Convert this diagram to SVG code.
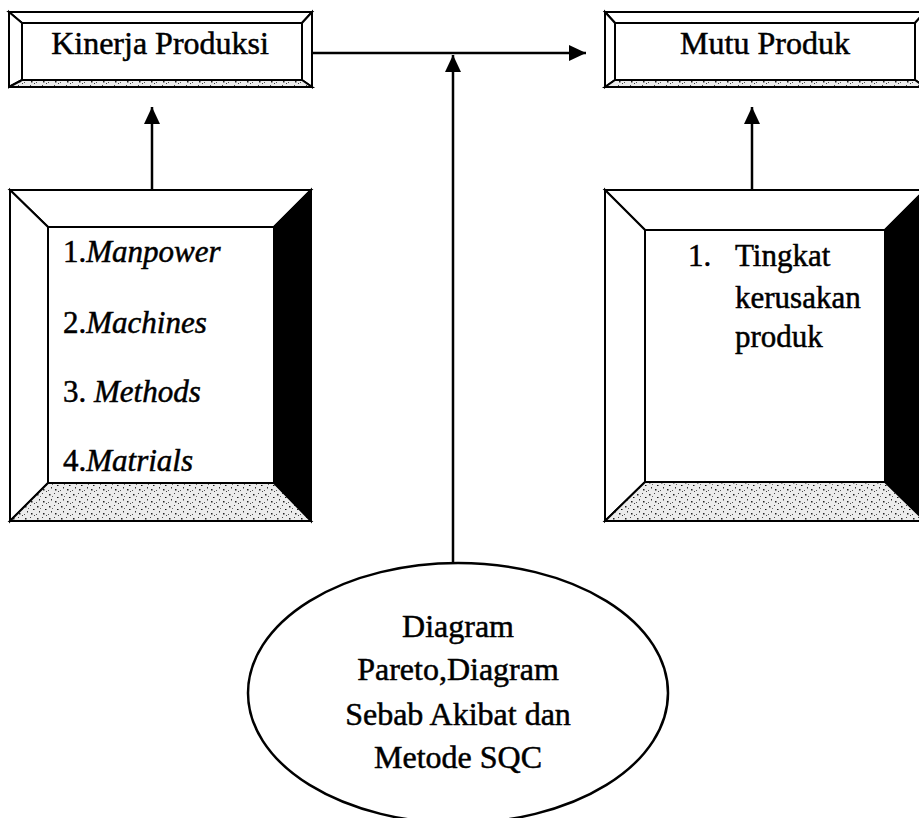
<svg xmlns="http://www.w3.org/2000/svg" width="919" height="818" viewBox="0 0 919 818">
<style>
.t{font-family:"Liberation Serif","Times New Roman",serif;font-size:32px;fill:#000;stroke:#000;stroke-width:0.5}
.m{font-size:31px}
.it{font-style:italic}
.bev{stroke:#000;stroke-width:2;stroke-linejoin:miter}
.w{fill:#fff}
.k{fill:#000}
.s{fill:url(#stip)}
.ln{fill:none;stroke:#000;stroke-width:2.5}
</style>
<defs>
<pattern id="stip" width="12" height="12" patternUnits="userSpaceOnUse">
<rect width="12" height="12" fill="#ececec"/>
<rect x="1" y="2" width="1.5" height="1.5" fill="#222"/>
<rect x="6" y="1" width="1" height="1" fill="#444"/>
<rect x="9" y="5" width="1.5" height="1" fill="#111"/>
<rect x="3" y="7" width="1" height="1.5" fill="#333"/>
<rect x="7" y="9" width="1.5" height="1.5" fill="#222"/>
<rect x="0" y="10" width="1" height="1" fill="#555"/>
<rect x="10" y="11" width="1" height="1" fill="#444"/>
<rect x="4" y="4" width="1" height="1" fill="#666"/>
</pattern>
<marker id="ah" markerUnits="userSpaceOnUse" markerWidth="18" markerHeight="16" refX="17" refY="8" orient="auto">
<path d="M0,0 L17,8 L0,16 z" fill="#000"/>
</marker>
</defs>

<g id="kinerja-produksi">
<polygon class="bev w" points="9,12 312,12 302,23 22,23"/>
<polygon class="bev w" points="9,12 22,23 22,80 9,87"/>
<polygon class="bev w" points="312,12 312,87 302,80 302,23"/>
<polygon class="bev s" points="9,87 22,80 302,80 312,87"/>
<rect class="bev w" x="22" y="23" width="280" height="57"/>
<text class="t" x="160" y="54" text-anchor="middle">Kinerja Produksi</text>
</g>

<g id="mutu-produk">
<polygon class="bev w" points="605,12 925,12 915,23 615,23"/>
<polygon class="bev w" points="605,12 615,23 615,80 605,87"/>
<polygon class="bev w" points="925,12 925,87 915,80 915,23"/>
<polygon class="bev s" points="605,87 615,80 915,80 925,87"/>
<rect class="bev w" x="615" y="23" width="300" height="57"/>
<text class="t" x="765" y="54" text-anchor="middle">Mutu Produk</text>
</g>

<g id="faktor-produksi">
<polygon class="bev w" points="10,190 311,190 274,227 48,227"/>
<polygon class="bev w" points="10,190 48,227 48,483 10,521"/>
<polygon class="bev k" points="311,190 311,521 274,483 274,227"/>
<polygon class="bev s" points="10,521 48,483 274,483 311,521"/>
<rect class="bev w" x="48" y="227" width="226" height="256"/>
<text class="t m" x="63" y="262">1.<tspan class="it">Manpower</tspan></text>
<text class="t m" x="63" y="333">2.<tspan class="it">Machines</tspan></text>
<text class="t m" x="63" y="402">3. <tspan class="it">Methods</tspan></text>
<text class="t m" x="63" y="471">4.<tspan class="it">Matrials</tspan></text>
</g>

<g id="indikator-mutu">
<polygon class="bev w" points="605,190 925,190 885,230 645,230"/>
<polygon class="bev w" points="605,190 645,230 645,482 605,521"/>
<polygon class="bev k" points="925,190 925,521 885,482 885,230"/>
<polygon class="bev s" points="605,521 645,482 885,482 925,521"/>
<rect class="bev w" x="645" y="230" width="240" height="252"/>
<text class="t m" x="688" y="266">1.</text>
<text class="t m" x="735" y="266">Tingkat</text>
<text class="t m" x="735" y="308">kerusakan</text>
<text class="t m" x="735" y="347">produk</text>
</g>

<g id="metode">
<ellipse cx="458" cy="693" rx="210" ry="130" fill="#fff" stroke="#000" stroke-width="2.5"/>
<text class="t" x="458" y="637" text-anchor="middle">Diagram</text>
<text class="t" x="458" y="680" text-anchor="middle">Pareto,Diagram</text>
<text class="t" x="458" y="725" text-anchor="middle">Sebab Akibat dan</text>
<text class="t" x="458" y="768" text-anchor="middle">Metode SQC</text>
</g>

<g id="connectors">
<line class="ln" x1="312" y1="53" x2="586" y2="53" marker-end="url(#ah)"/>
<line class="ln" x1="453" y1="563" x2="453" y2="55" marker-end="url(#ah)"/>
<line class="ln" x1="152" y1="190" x2="152" y2="107" marker-end="url(#ah)"/>
<line class="ln" x1="752" y1="190" x2="752" y2="107" marker-end="url(#ah)"/>
</g>
</svg>
